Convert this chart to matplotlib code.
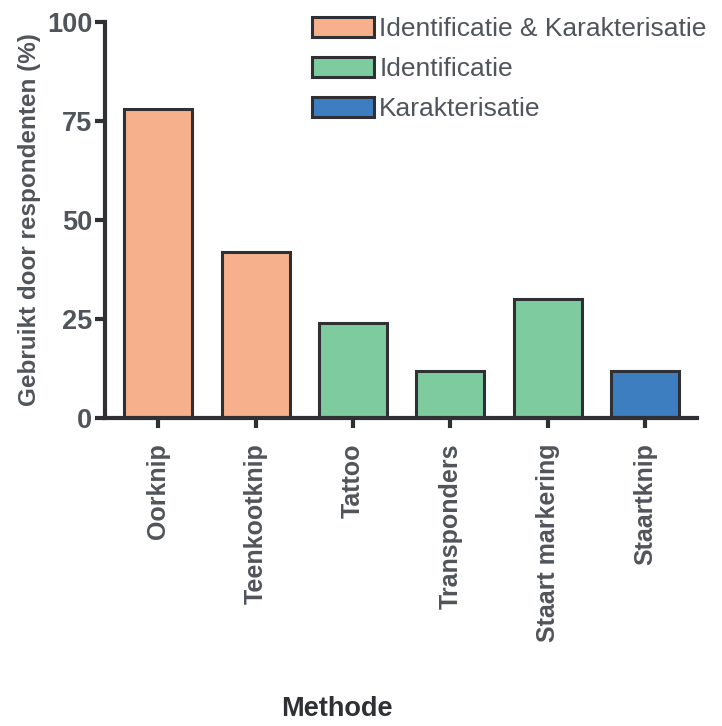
import matplotlib
matplotlib.use("Agg")
import matplotlib.pyplot as plt
from matplotlib.patches import Patch

methods = ["Oorknip", "Teenkootknip", "Tattoo", "Transponders", "Staart markering", "Staartknip"]
usage = [78, 42, 24, 12, 30, 12]
groups = ["both", "both", "ident", "ident", "ident", "kar"]

group_names = ["both", "ident", "kar"]
group_labels = ["Identificatie & Karakterisatie", "Identificatie", "Karakterisatie"]
group_colors = {"both": "#f6b08c", "ident": "#7ecba0", "kar": "#3d7ec0"}

yticks = [0, 25, 50, 75, 100]

plt.rcParams['font.family'] = ['Liberation Sans', 'DejaVu Sans']
txt = "#50555b"
dark = "#2e3033"

fig = plt.figure(figsize=(7.22, 7.26), dpi=100)
ax = fig.add_axes([0.145, 0.424, 0.82, 0.546])

ax.bar(range(len(methods)), usage, width=0.7,
       color=[group_colors[g] for g in groups], edgecolor=dark, linewidth=2.2)

ax.set_xlim(-0.55, 5.53)
ax.set_ylim(0, 100)
ax.set_yticks(yticks)
ax.set_yticklabels([str(t) for t in yticks], fontsize=19.5, fontweight='bold', color=txt)
ax.set_xticks(range(len(methods)))
ax.set_xticklabels(methods, rotation=90, fontsize=18, fontweight='bold', color=txt)

for s in ['top', 'right']:
    ax.spines[s].set_visible(False)
for s in ['left', 'bottom']:
    ax.spines[s].set_linewidth(3)
    ax.spines[s].set_color(dark)
ax.tick_params(axis='both', width=3, length=7, color=dark, pad=2)
ax.tick_params(axis='x', pad=11)

ax.set_ylabel("Gebruikt door respondenten (%)", fontsize=17.5, fontweight='bold', color=txt, labelpad=4)
fig.text(0.467, 0.006, "Methode", fontsize=19.5, fontweight='bold', color=dark, ha='center', va='bottom')

handles = [Patch(facecolor=group_colors[g], edgecolor=dark, linewidth=2.2) for g in group_names]
fig.legend(handles, group_labels, loc='upper left', bbox_to_anchor=(0.432, 0.976),
           frameon=False, fontsize=19, handlelength=2.35, handleheight=0.77,
           handletextpad=0.2, labelspacing=0.6, borderpad=0, borderaxespad=0,
           labelcolor=txt)

fig.savefig("out.png", dpi=100)
